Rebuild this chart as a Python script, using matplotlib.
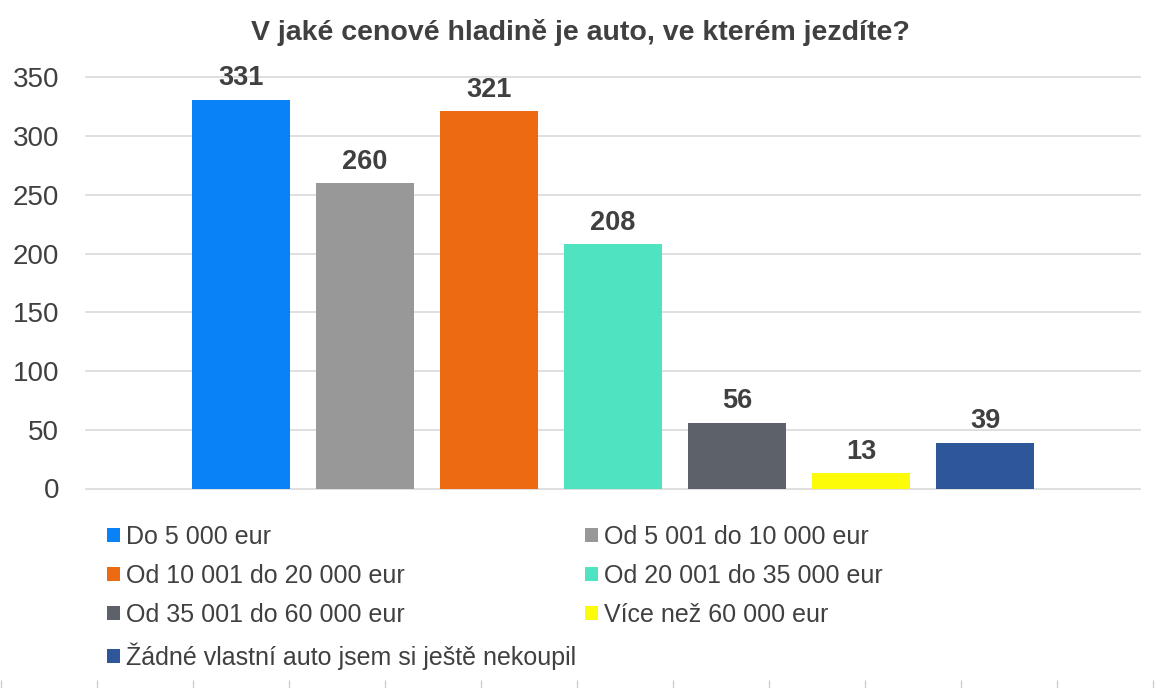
import matplotlib
matplotlib.use("Agg")
import matplotlib.pyplot as plt
from matplotlib.patches import Patch
import numpy as np

plt.rcParams['font.family'] = ['Liberation Sans', 'DejaVu Sans']

title = "V jaké cenové hladině je auto, ve kterém jezdíte?"
categories = [
    "Do 5 000 eur",
    "Od 5 001 do 10 000 eur",
    "Od 10 001 do 20 000 eur",
    "Od 20 001 do 35 000 eur",
    "Od 35 001 do 60 000 eur",
    "Více než 60 000 eur",
    "Žádné vlastní auto jsem si ještě nekoupil",
]
values = [331, 260, 321, 208, 56, 13, 39]
colors = ["#0A82F7", "#989898", "#EE6A12", "#50E3C2", "#5D6169", "#FCFC0A", "#2E5799"]
yticks = [0, 50, 100, 150, 200, 250, 300, 350]

TXT = "#404040"
W, H = 1160, 688
fig = plt.figure(figsize=(W / 100, H / 100), dpi=100)
fig.patch.set_facecolor("white")

left, right = 85.5 / W, 1140 / W
bottom = 1 - 488.5 / H
top = 1 - 77.3 / H
ax = fig.add_axes([left, bottom, right - left, top - bottom])

x = np.arange(len(values))
bars = ax.bar(x, values, width=0.79, color=colors, zorder=3)
ax.set_xlim(-1.254, 7.25)
ax.set_ylim(0, 350)
ax.set_yticks(yticks)
ax.set_yticklabels([str(t) for t in yticks], fontsize=20, color=TXT)
ax.tick_params(axis='y', length=0, pad=19)
ax.set_xticks([])
ax.grid(axis='y', color="#D9D9D9", linewidth=1.2, zorder=0)
for s in ax.spines.values():
    s.set_visible(False)
for gl in ax.get_ygridlines():
    gl.set_clip_on(False)

for xi, v in zip(x, values):
    ax.annotate(str(v), (xi, v), xytext=(0, 6), textcoords="offset points",
                ha="center", va="bottom", fontsize=19.5, fontweight="bold", color=TXT)

fig.text(0.5, 1 - 33 / H, title, ha="center", va="center", fontsize=20.5,
         fontweight="bold", color=TXT)

handles = [Patch(facecolor=c, edgecolor="none") for c in colors]
order = [0, 2, 4, 6, 1, 3, 5]
leg = fig.legend([handles[i] for i in order], [categories[i] for i in order],
                 ncol=2, loc="upper left", bbox_to_anchor=(107 / W, 1 - 525 / H),
                 frameon=False, fontsize=18, handlelength=0.5, handleheight=0.5,
                 handletextpad=0.25, columnspacing=0.38, labelspacing=0.6,
                 borderaxespad=0, borderpad=0)
for t in leg.get_texts():
    t.set_color(TXT)

# small tick marks along the bottom edge
axb = fig.add_axes([0, 0, 1, 0.0001])
axb.set_xlim(0, W)
axb.set_xticks(np.arange(1, W, 96))
axb.set_xticklabels([])
axb.set_yticks([])
axb.tick_params(axis='x', direction='in', length=6, color="#CFCFCF", width=1)
for s in axb.spines.values():
    s.set_visible(False)
axb.patch.set_visible(False)

fig.savefig("out.png", dpi=100, facecolor="white")
